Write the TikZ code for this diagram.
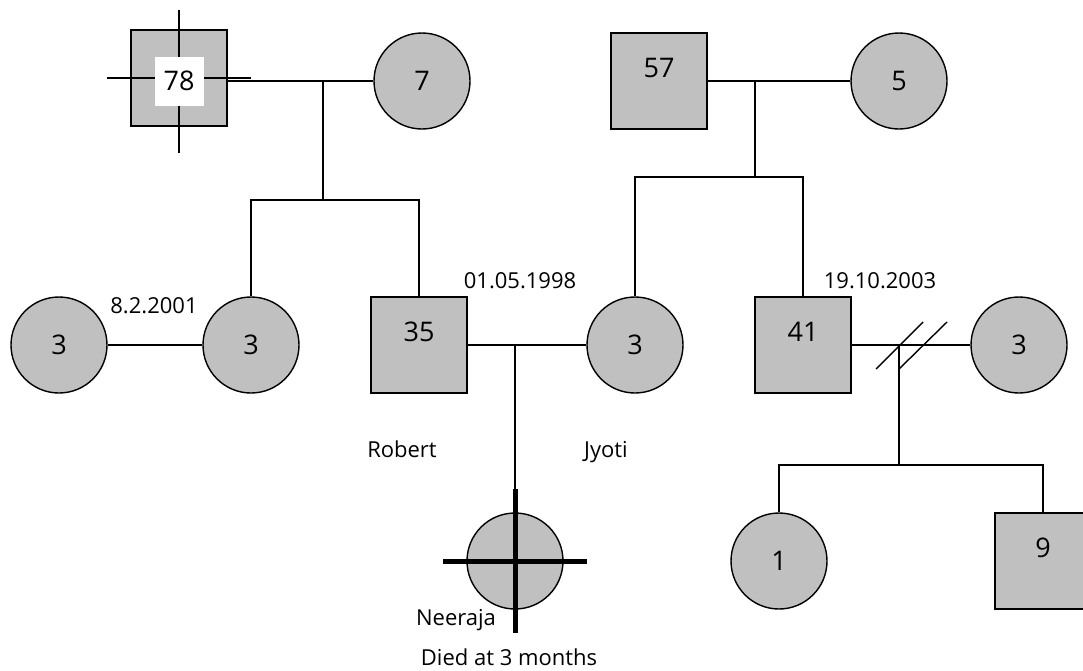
\documentclass[tikz,border=0pt]{standalone}
\usepackage{fontspec}
\setmainfont{Open Sans}
\definecolor{affected}{HTML}{C0C0C0}
\tikzset{
    person/.style={
        draw, fill=affected, line width=1.4pt,
        minimum size=96pt, inner sep=0pt,
        font=\fontsize{27}{31}\selectfont
    },
    female/.style={person, circle},
    male/.style={person, rectangle, text depth=26pt},
    line/.style={line width=1.4pt},
    dead/.style={line width=5pt},
    txt/.style={anchor=base, inner sep=0pt, font=\fontsize{22}{26}\selectfont}
}

\begin{document}
\begin{tikzpicture}[x=1pt, y=-1pt]
		\useasboundingbox (0,0) rectangle (1083,670);

		% Grandparents
		\node[male] (f78) at (179,78) {};
		\draw[line] (179,10) -- (179,153);
		\draw[line] (107,78) -- (251,78);
		\node[fill=white, minimum size=49pt, inner sep=0pt, font=\fontsize{27}{31}\selectfont] (n78) at (179,81) {78};
		\node[female] (m7) at (422,81) {7};

		\node[male] (f57) at (659,81) {57};
		\node[female] (m5) at (899,81) {5};

		% Second generation
		\node[female] (w1) at (59,345) {3};
		\node[female] (d1) at (251,345) {3};
		\node[male] (robert) at (419,345) {35};
		\node[female] (jyoti) at (635,345) {3};
		\node[male] (s41) at (803,345) {41};
		\node[female] (w2) at (1019,345) {3};

		% Third generation
		\node[female] (neeraja) at (515,561) {};
		\node[female] (g1) at (779,561) {1};
		\node[male] (g9) at (1043,561) {9};

		% Junctions
		\coordinate (j1) at (323,81);
		\coordinate (b1) at (323,200);
		\coordinate (j2) at (755,81);
		\coordinate (b2) at (755,177);
		\coordinate (j3) at (515,345);
		\coordinate (j4) at (899,345);
		\coordinate (b4) at (899,465);

		% Marriages
		\draw[line] (m7 -| f78.east) -- (m7);
		\draw[line] (f57) -- (m5);
		\draw[line] (w1) -- (d1);
		\draw[line] (robert) -- (jyoti);
		\draw[line] (s41) -- (w2);

		% Descent
		\draw[line] (j1) -- (b1);
		\draw[line] (d1.north) |- (b1) -| (robert.north);
		\draw[line] (j2) -- (b2);
		\draw[line] (jyoti.north) |- (b2) -| (s41.north);
		\draw[line] (j3) -- (neeraja.north);
		\draw[line] (j4) -- (b4);
		\draw[line] (g1.north) |- (b4) -| (g9.north);

		% Divorce
		\draw[line] (j4) ++(-23,24) -- ++(47,-47);
		\draw[line] (j4) ++(0,24) -- ++(48,-47);

		% Deceased
		\draw[dead] (neeraja) ++(0,-72) -- ++(0,144);
		\draw[dead] (neeraja) ++(-72,0) -- ++(144,0);

		% Labels
		\node[txt] (date1) at (154,313) {8.2.2001};
		\node[txt] (date2) at (520,288) {01.05.1998};
		\node[txt] (date3) at (880,288) {19.10.2003};
		\node[txt] (name1) at (402,457) {Robert};
		\node[txt] (name2) at (606,457) {Jyoti};
		\node[txt] (name3) at (456,625) {Neeraja};
		\node[txt] (note) at (509,665) {Died at 3 months};

	\end{tikzpicture}
\end{document}
